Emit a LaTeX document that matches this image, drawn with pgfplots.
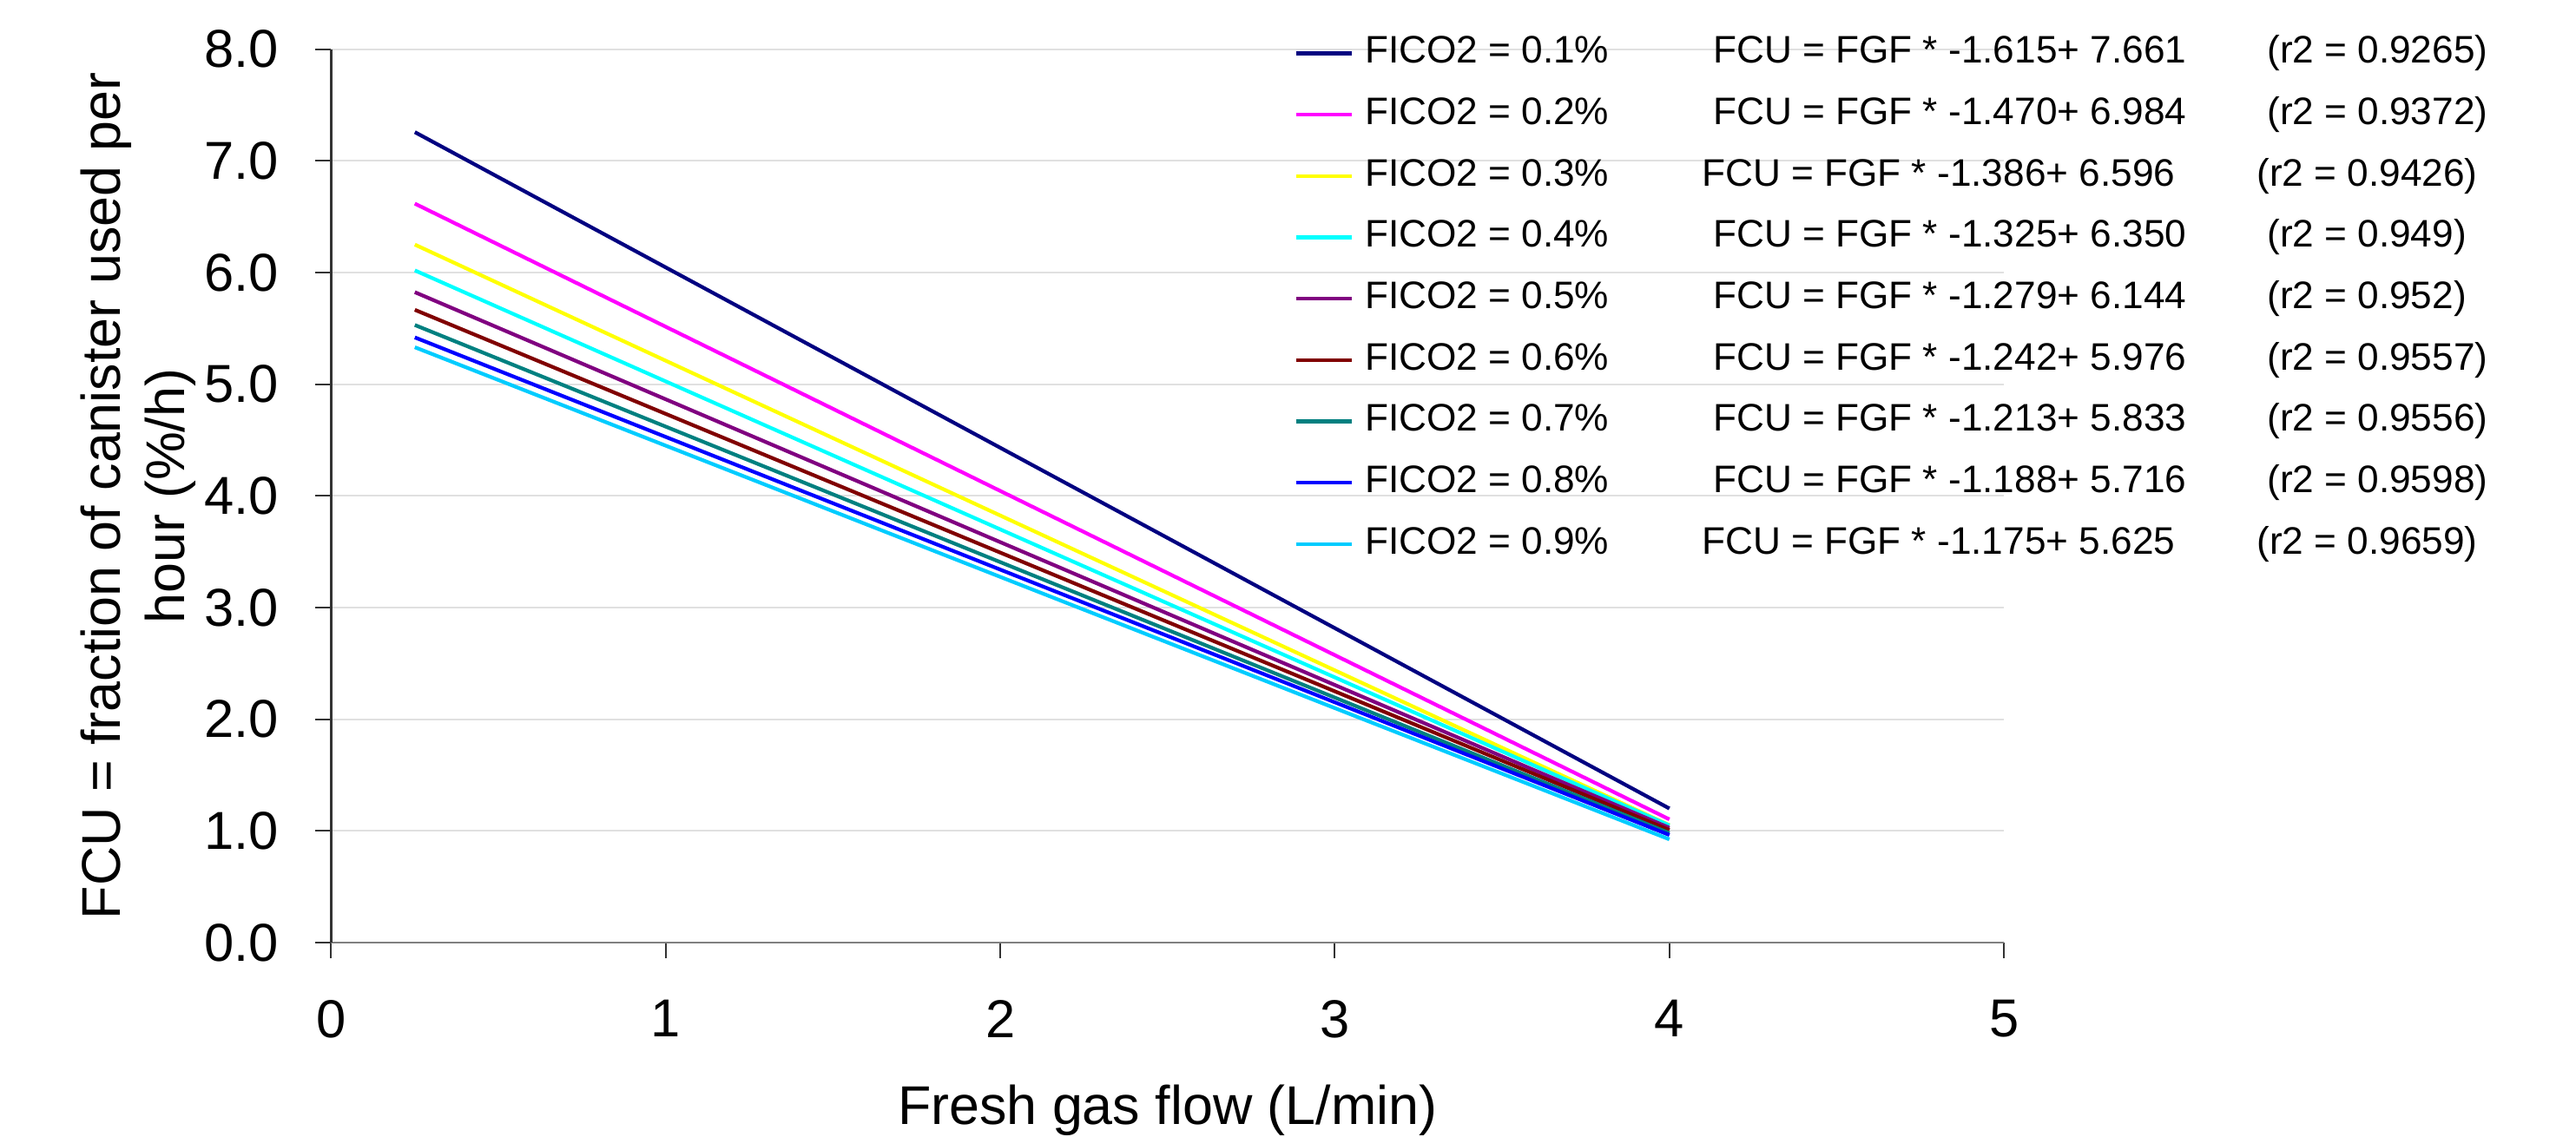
\documentclass[border=0pt]{standalone}
\usepackage{fontspec}
\setmainfont{Liberation Sans}
\usepackage{pgfplots}
\pgfplotsset{compat=1.18}

\definecolor{c1}{RGB}{0,0,128}
\definecolor{c2}{RGB}{255,0,255}
\definecolor{c3}{RGB}{255,255,0}
\definecolor{c4}{RGB}{0,255,255}
\definecolor{c5}{RGB}{128,0,128}
\definecolor{c6}{RGB}{128,0,0}
\definecolor{c7}{RGB}{0,128,128}
\definecolor{c8}{RGB}{0,0,255}
\definecolor{c9}{RGB}{0,204,255}

\newcommand{\entry}[5]{\makebox[#4][l]{#1}\makebox[#5][l]{#2}#3}

\begin{document}
\begin{tikzpicture}
\begin{axis}[
  scale only axis,
  width=294.4pt, height=157.3pt,
  xmin=0, xmax=5, ymin=0, ymax=8,
  xtick={0,1,2,3,4,5}, ytick={0,1,...,8},
  axis lines*=left,
  axis line style={line width=0.4pt},
  x axis line style={gray},
  y axis line style={black!80},
  tick align=outside,
  major tick length=2.75pt,
  tick style={black!80, line width=0.3pt},
  ymajorgrids,
  grid style={black!12, line width=0.3pt},
  clip=false,
  /pgf/number format/assume math mode=true,
  ticklabel style={font=\fontsize{9.4}{11}\selectfont},
  yticklabel style={/pgf/number format/.cd, fixed, fixed zerofill, precision=1},
  xticklabel shift=3.8pt,
  yticklabel shift=3pt,
  xlabel={Fresh gas flow (L/min)},
  xlabel style={at={(axis description cs:0.5,-0.2035)}, anchor=base, inner sep=0pt, font=\fontsize{9.6}{11.3}\selectfont},
  ylabel={FCU = fraction of canister used per\\hour (\%/h)},
  ylabel style={at={(axis description cs:-0.1154,0.5)}, anchor=center, align=center, inner sep=0pt, font=\fontsize{9.6}{11.3}\selectfont},
  every axis plot/.append style={line width=0.65pt},
  legend cell align=left,
  legend style={at={(rel axis cs:0.5648,1.03)}, anchor=north west, draw=none, fill=none,
    font=\fontsize{6.75}{8}\selectfont,
    nodes={inner sep=0pt, text height=5pt, text depth=1.5pt},
    row sep=4.3pt,
    /tikz/every odd column/.append style={column sep=2pt}},
  legend image code/.code={\draw[#1] (0pt,0pt) -- (9.8pt,0pt);},
]
\addplot[c1] coordinates {(0.25,7.257) (4,1.201)};
\addplot[c2] coordinates {(0.25,6.617) (4,1.104)};
\addplot[c3] coordinates {(0.25,6.250) (4,1.052)};
\addplot[c4] coordinates {(0.25,6.019) (4,1.050)};
\addplot[c5] coordinates {(0.25,5.824) (4,1.028)};
\addplot[c6] coordinates {(0.25,5.666) (4,1.008)};
\addplot[c7] coordinates {(0.25,5.530) (4,0.981)};
\addplot[c8] coordinates {(0.25,5.419) (4,0.964)};
\addplot[c9] coordinates {(0.25,5.331) (4,0.925)};
\legend{
  \entry{FICO2 = 0.1\%}{FCU = FGF * -1.615+ 7.661}{(r2 = 0.9265)}{61.3pt}{97.5pt},
  \entry{FICO2 = 0.2\%}{FCU = FGF * -1.470+ 6.984}{(r2 = 0.9372)}{61.3pt}{97.5pt},
  \entry{FICO2 = 0.3\%}{FCU = FGF * -1.386+ 6.596}{(r2 = 0.9426)}{59.3pt}{97.7pt},
  \entry{FICO2 = 0.4\%}{FCU = FGF * -1.325+ 6.350}{(r2 = 0.949)}{61.3pt}{97.5pt},
  \entry{FICO2 = 0.5\%}{FCU = FGF * -1.279+ 6.144}{(r2 = 0.952)}{61.3pt}{97.5pt},
  \entry{FICO2 = 0.6\%}{FCU = FGF * -1.242+ 5.976}{(r2 = 0.9557)}{61.3pt}{97.5pt},
  \entry{FICO2 = 0.7\%}{FCU = FGF * -1.213+ 5.833}{(r2 = 0.9556)}{61.3pt}{97.5pt},
  \entry{FICO2 = 0.8\%}{FCU = FGF * -1.188+ 5.716}{(r2 = 0.9598)}{61.3pt}{97.5pt},
  \entry{FICO2 = 0.9\%}{FCU = FGF * -1.175+ 5.625}{(r2 = 0.9659)}{59.3pt}{97.7pt}}
\path (rel axis cs:-0.198,-0.217) rectangle (rel axis cs:1.342,1.055);
\end{axis}
\end{tikzpicture}
\end{document}
